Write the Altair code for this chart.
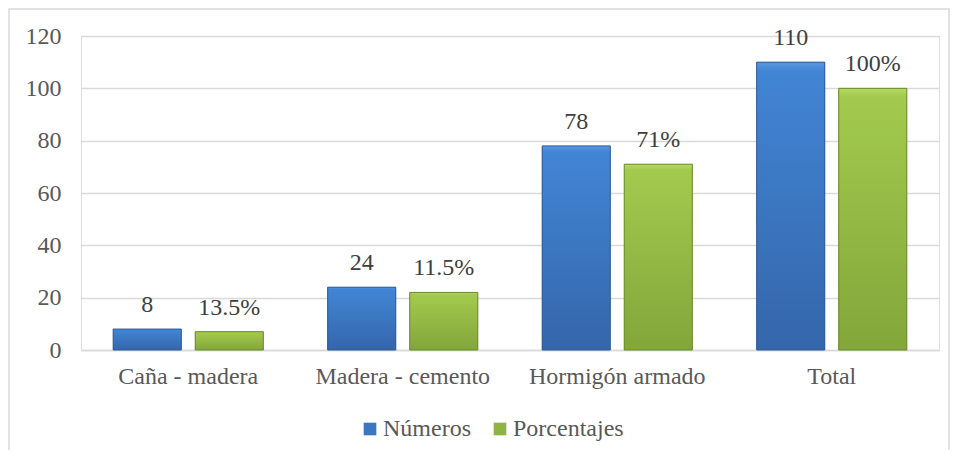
import altair as alt
import pandas as pd

categorias = ["Caña - madera", "Madera - cemento", "Hormigón armado", "Total"]
series = ["Números", "Porcentajes"]
numeros = [8, 24, 78, 110]
porcentajes = [7, 22, 71, 100]
etiquetas_numeros = ["8", "24", "78", "110"]
etiquetas_porcentajes = ["13.5%", "11.5%", "71%", "100%"]
y_ticks = [0, 20, 40, 60, 80, 100, 120]

rows = []
for i, c in enumerate(categorias):
    rows.append({"categoria": c, "serie": series[0], "valor": numeros[i], "etiqueta": etiquetas_numeros[i]})
    rows.append({"categoria": c, "serie": series[1], "valor": porcentajes[i], "etiqueta": etiquetas_porcentajes[i]})
df = pd.DataFrame(rows)

FONT = "Liberation Serif"
TXT = "#595959"
FS = 24

blue_grad = {
    "gradient": "linear", "x1": 0, "y1": 0, "x2": 0, "y2": 1,
    "stops": [
        {"offset": 0, "color": "#5a98e0"},
        {"offset": 0.03, "color": "#4285d5"},
        {"offset": 1, "color": "#3466aa"},
    ],
}
green_grad = {
    "gradient": "linear", "x1": 0, "y1": 0, "x2": 0, "y2": 1,
    "stops": [
        {"offset": 0, "color": "#b6da62"},
        {"offset": 0.03, "color": "#a3ca4e"},
        {"offset": 1, "color": "#83a63a"},
    ],
}

x_enc = alt.X(
    "categoria:N",
    sort=categorias,
    title=None,
    scale=alt.Scale(paddingInner=0.3, paddingOuter=0.15),
    axis=alt.Axis(
        labelAngle=0, labelPadding=14, ticks=False, domain=True,
        domainColor="#d9d9d9", domainWidth=1.5, grid=False,
        labelFont=FONT, labelFontSize=FS, labelColor=TXT, labelLimit=300,
    ),
)
xoff = alt.XOffset("serie:N", sort=series, scale=alt.Scale(paddingInner=0.17, paddingOuter=0))
y_enc = alt.Y(
    "valor:Q",
    title=None,
    scale=alt.Scale(domain=[0, 120], nice=False),
    axis=alt.Axis(
        values=y_ticks, labelPadding=20, ticks=False, domain=False,
        gridColor="#d9d9d9", gridWidth=1.5,
        labelFont=FONT, labelFontSize=FS, labelColor=TXT,
    ),
)

base = alt.Chart(df)

bars = base.mark_bar().encode(
    x=x_enc, xOffset=xoff, y=y_enc,
    color=alt.Color(
        "serie:N", sort=series,
        scale=alt.Scale(domain=series, range=["#3b76c0", "#8fb443"]),
        legend=alt.Legend(
            title=None, orient="none", direction="horizontal",
            legendX=277, legendY=381, symbolType="square", symbolSize=160,
            symbolStrokeWidth=0, labelOffset=1, columnPadding=17,
            labelFont=FONT, labelFontSize=FS, labelColor=TXT,
        ),
    ),
)

bars_grad = base.mark_bar(strokeWidth=1).encode(
    x=x_enc, xOffset=xoff, y=y_enc,
    fill=alt.condition(alt.datum.serie == "Números", alt.value(blue_grad), alt.value(green_grad)),
    stroke=alt.condition(alt.datum.serie == "Números", alt.value("#2c5a96"), alt.value("#6a8a2c")),
)

labels = base.mark_text(
    baseline="alphabetic", dy=-17, font=FONT, fontSize=FS, color="#404040"
).encode(x=x_enc, xOffset=xoff, y=y_enc, text="etiqueta:N")

frame = alt.Chart(pd.DataFrame({"k": [0]})).mark_rect(
    fill=None, stroke="#d9d9d9", strokeWidth=1.5
).encode(
    x=alt.value(-72), x2=alt.value(868), y=alt.value(-27), y2=alt.value(500)
)

chart = (
    alt.layer(bars, bars_grad, labels, frame)
    .properties(
        width=858, height=314,
        padding={"left": 73, "top": 28, "right": 11, "bottom": 100},
        autosize=alt.AutoSizeParams(type="none"),
    )
    .configure_view(strokeWidth=0)
    .configure(background="white")
)

chart.save("out.html", embed_options={"renderer": "svg", "actions": False})
